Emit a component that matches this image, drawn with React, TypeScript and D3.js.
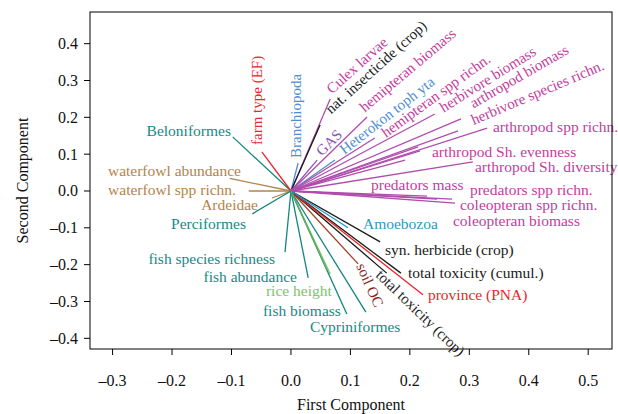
import React from 'react';
import * as d3 from 'd3';

// ---- data (loadings on first two principal components) ----
const names = [
  'Beloniformes', 'farm type (EF)', 'waterfowl abundance', 'waterfowl spp richn.', 'Ardeidae',
  'Perciformes', 'fish species richness', 'fish abundance', 'rice height', 'fish biomass',
  'Cypriniformes', 'soil OC', 'total toxicity (crop)', 'total toxicity (cumul.)', 'province (PNA)',
  'syn. herbicide (crop)', 'Amoebozoa', 'Branchiopoda', 'Culex larvae', 'nat. insecticide (crop)',
  'GAS', 'Heterokon toph yta', 'hemipteran biomass', 'hemipteran spp richn.', 'herbivore biomass',
  'arthropod biomass', 'herbivore species richn.', 'arthropod spp richn.', 'arthropod Sh. evenness',
  'arthropod Sh. diversity', 'predators mass', 'predators spp richn.', 'coleopteran spp richn.',
  'coleopteran biomass', '', '', '',
];
const pc1 = [
  -0.098, -0.049, -0.103, -0.071, -0.032,
  -0.065, -0.010, 0.029, 0.066, 0.094,
  0.126, 0.113, 0.161, 0.185, 0.222,
  0.150, 0.096, 0.012, 0.066, 0.049,
  0.044, 0.074, 0.128, 0.141, 0.242,
  0.286, 0.281, 0.330, 0.217,
  0.306, 0.229, 0.271, 0.276,
  0.246, 0.214, 0.192, 0.061,
];
const pc2 = [
  0.147, 0.106, 0.034, 0.000, -0.019,
  -0.062, -0.166, -0.236, -0.225, -0.334,
  -0.329, -0.198, -0.223, -0.223, -0.282,
  -0.138, -0.100, 0.076, 0.250, 0.179,
  0.084, 0.084, 0.201, 0.144, 0.209,
  0.196, 0.163, 0.171, 0.109,
  0.079, -0.014, -0.022, -0.033,
  -0.022, 0.120, 0.084, -0.215,
];
const groups = [
  'fish', 'mgmt', 'bird', 'bird', 'bird',
  'fish', 'fish', 'fish', 'rice', 'fish',
  'fish', 'soil', 'chem', 'chem', 'mgmt',
  'chem', 'protist', 'micro', 'arth', 'chem',
  'gas', 'micro', 'arth', 'arth', 'arth',
  'arth', 'arth', 'arth', 'arth',
  'arth', 'arth', 'arth', 'arth',
  'arth', 'arth', 'arth', 'rice2',
];

const xTicks = [-0.3, -0.2, -0.1, 0.0, 0.1, 0.2, 0.3, 0.4, 0.5];
const yTicks = [0.4, 0.3, 0.2, 0.1, 0.0, -0.1, -0.2, -0.3, -0.4];
const xTitle = 'First Component';
const yTitle = 'Second Component';

// ---- label layout (positions in data units, angle in degrees) ----
type L = { lx: number; ly: number; a: number; anchor: string; base: string };
const labelLayout: L[] = [
  { lx: -0.1009, ly: 0.1656, a: 0, anchor: 'end', base: 'central' },
  { lx: -0.0563, ly: 0.1249, a: -90, anchor: 'start', base: 'central' },
  { lx: -0.0841, ly: 0.0570, a: 0, anchor: 'end', base: 'central' },
  { lx: -0.0925, ly: 0.0054, a: 0, anchor: 'end', base: 'central' },
  { lx: -0.0555, ly: -0.0380, a: 0, anchor: 'end', base: 'central' },
  { lx: -0.0757, ly: -0.0869, a: 0, anchor: 'end', base: 'central' },
  { lx: -0.0269, ly: -0.1825, a: 0, anchor: 'end', base: 'central' },
  { lx: 0.0101, ly: -0.2310, a: 0, anchor: 'end', base: 'central' },
  { lx: -0.0421, ly: -0.2715, a: 0, anchor: 'start', base: 'central' },
  { lx: -0.0471, ly: -0.3258, a: 0, anchor: 'start', base: 'central' },
  { lx: 0.0320, ly: -0.3692, a: 0, anchor: 'start', base: 'central' },
  { lx: 0.1094, ly: -0.2036, a: 66, anchor: 'start', base: 'auto' },
  { lx: 0.1413, ly: -0.2308, a: 44, anchor: 'start', base: 'auto' },
  { lx: 0.1968, ly: -0.2226, a: 0, anchor: 'start', base: 'central' },
  { lx: 0.2304, ly: -0.2823, a: 0, anchor: 'start', base: 'central' },
  { lx: 0.1581, ly: -0.1575, a: 0, anchor: 'start', base: 'central' },
  { lx: 0.1211, ly: -0.0869, a: 0, anchor: 'start', base: 'central' },
  { lx: 0.0093, ly: 0.0896, a: -90, anchor: 'start', base: 'central' },
  { lx: 0.0690, ly: 0.2620, a: -42, anchor: 'start', base: 'auto' },
  { lx: 0.0673, ly: 0.2077, a: -42, anchor: 'start', base: 'auto' },
  { lx: 0.0522, ly: 0.0931, a: -45, anchor: 'start', base: 'auto' },
  { lx: 0.0900, ly: 0.0977, a: -38, anchor: 'start', base: 'auto' },
  { lx: 0.1240, ly: 0.2126, a: -40, anchor: 'start', base: 'auto' },
  { lx: 0.1598, ly: 0.1439, a: -36, anchor: 'start', base: 'auto' },
  { lx: 0.2567, ly: 0.2126, a: -32, anchor: 'start', base: 'auto' },
  { lx: 0.3070, ly: 0.2240, a: -30, anchor: 'start', base: 'auto' },
  { lx: 0.3073, ly: 0.1792, a: -23, anchor: 'start', base: 'auto' },
  { lx: 0.3398, ly: 0.1738, a: 0, anchor: 'start', base: 'central' },
  { lx: 0.2372, ly: 0.1059, a: 0, anchor: 'start', base: 'central' },
  { lx: 0.3095, ly: 0.0652, a: 0, anchor: 'start', base: 'central' },
  { lx: 0.1346, ly: 0.0163, a: 0, anchor: 'start', base: 'central' },
  { lx: 0.3011, ly: 0.0040, a: 0, anchor: 'start', base: 'central' },
  { lx: 0.2843, ly: -0.0380, a: 0, anchor: 'start', base: 'central' },
  { lx: 0.2725, ly: -0.0800, a: 0, anchor: 'start', base: 'central' },
  { lx: 0, ly: 0, a: 0, anchor: 'start', base: 'central' },
  { lx: 0, ly: 0, a: 0, anchor: 'start', base: 'central' },
  { lx: 0, ly: 0, a: 0, anchor: 'start', base: 'central' },
];

const lineColor: Record<string, string> = {
  fish: '#14857f', mgmt: '#e8262a', bird: '#b5834a', rice: '#86c774', rice2: '#5fb35a',
  soil: '#a0442a', chem: '#1a1a1a', protist: '#1f9cc8', micro: '#4e8fd2', arth: '#b04cac',
  gas: '#8a55b5',
};
const textColor: Record<string, string> = {
  fish: '#168a84', mgmt: '#e8262a', bird: '#b5834a', rice: '#7cc46c', rice2: '#5fb35a',
  soil: '#8c1f1f', chem: '#1a1a1a', protist: '#1f9cc8', micro: '#4e8fd2', arth: '#c43c9e',
  gas: '#8a55b5',
};

const W = 618;
const H = 414;
const left = 90, right = 612, top = 12, bottom = 349;
const FONT = '"Liberation Serif", "Times New Roman", serif';

const fmt = (v: number) => {
  const s = Math.abs(v).toFixed(1);
  return v < -1e-9 ? '\u2013' + s : s;
};

export default function App() {
  const x = d3.scaleLinear().domain([-0.338, 0.540]).range([left, right]);
  const y = d3.scaleLinear().domain([-0.429, 0.486]).range([bottom, top]);

  return (
    <svg width={W} height={H} style={{ position: 'absolute', left: 0, top: 0, background: '#fff' }}
      fontFamily={FONT}>
      <rect x={0} y={0} width={W} height={H} fill="#fff" />
      {/* vectors */}
      {names.map((n, i) => (
        <line key={'l' + i} x1={x(0)} y1={y(0)} x2={x(pc1[i])} y2={y(pc2[i])}
          stroke={lineColor[groups[i]]} strokeWidth={1.3} />
      ))}
      {/* labels */}
      {names.map((n, i) => {
        if (!n) return null;
        const L = labelLayout[i];
        const px = x(L.lx), py = y(L.ly);
        const rotated = L.a !== 0;
        return (
          <text key={'t' + i} x={px} y={py}
            transform={rotated ? `rotate(${L.a},${px},${py})` : undefined}
            textAnchor={L.anchor}
            dominantBaseline={L.base === 'central' ? 'central' : undefined}
            fontSize={rotated ? 15 : 15.5}
            fill={textColor[groups[i]]}>{n}</text>
        );
      })}
      {/* frame */}
      <rect x={left} y={top} width={right - left} height={bottom - top} fill="none" stroke="#000" strokeWidth={1} />
      {/* x axis */}
      {xTicks.map((t) => (
        <g key={'xt' + t}>
          <line x1={x(t)} x2={x(t)} y1={bottom} y2={bottom + 6} stroke="#000" />
          <text x={x(t)} y={380} textAnchor="middle" dominantBaseline="central" fontSize={16} fill="#111">{fmt(t)}</text>
        </g>
      ))}
      {yTicks.map((t) => (
        <g key={'yt' + t}>
          <line x1={left - 6} x2={left} y1={y(t)} y2={y(t)} stroke="#000" />
          <text x={78} y={y(t)} textAnchor="end" dominantBaseline="central" fontSize={16} fill="#111">{fmt(t)}</text>
        </g>
      ))}
      <text x={(left + right) / 2} y={404} textAnchor="middle" dominantBaseline="central" fontSize={16} fill="#111">{xTitle}</text>
      <text x={22} y={(top + bottom) / 2} transform={`rotate(-90,22,${(top + bottom) / 2})`} textAnchor="middle"
        dominantBaseline="central" fontSize={16} fill="#111">{yTitle}</text>
    </svg>
  );
}
